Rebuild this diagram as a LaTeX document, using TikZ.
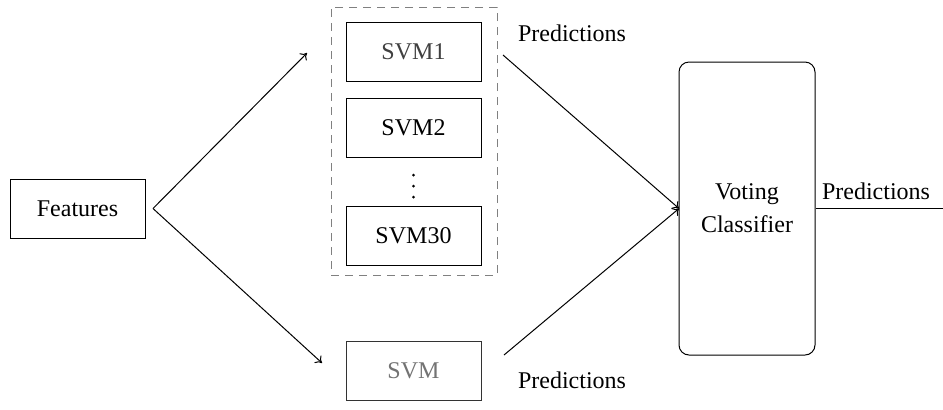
\documentclass[tikz,border=0pt]{standalone}
\usepackage{fontspec}
\setmainfont{Liberation Serif}
\newfontfamily\tnr{Liberation Serif}
\usetikzlibrary{arrows.meta}
\begin{document}
\begin{tikzpicture}[x=0.5pt,y=-0.5pt,
  box/.style={draw, line width=0.5pt, minimum width=67.5pt, minimum height=29.5pt, inner sep=0pt, font=\tnr\fontsize{12}{14}\selectfont},
  lbl/.style={inner sep=0pt, font=\tnr\fontsize{12}{14}\selectfont},
  dot/.style={circle, fill=black, inner sep=0pt, minimum size=1.5pt},
  conn/.style={line width=0.5pt},
  arr/.style={conn, -{To[length=3pt,width=5pt]}}]
\useasboundingbox (0,0) rectangle (943,409);
% group box
\node[draw=gray, dash pattern=on 4pt off 3pt, line width=0.5pt, minimum width=83pt, minimum height=134pt, inner sep=0pt] (grp) at (414,141) {};
\node[box] (feat) at (77.5,208.5) {Features};
\node[box, text=black!75] (svm1) at (413.5,51.5) {SVM1};
\node[box] (svm2) at (413.5,127.5) {SVM2};
\node[dot] (d1) at (413.5,175) {};
\node[dot] (d2) at (413.5,186) {};
\node[dot] (d3) at (413.5,197) {};
\node[box] (svm30) at (413.5,235.5) {SVM30};
\node[box, draw=black!80, text=black!55] (svm) at (413.5,370.5) {SVM};
\node[draw, line width=0.5pt, rounded corners=5pt, minimum width=68pt, minimum height=146.5pt, inner sep=0pt, align=center, font=\tnr\fontsize{12}{16.5}\selectfont] (vote) at (747,208.5) {Voting\\Classifier};
\node[lbl] (p1) at (572,33) {Predictions};
\node[lbl] (p2) at (572,380) {Predictions};
\node[lbl, anchor=south] (p3) at (876,200) {Predictions};
% coordinates
\coordinate (fs) at (153,208.5);
\coordinate (t1) at (307,53);
\coordinate (t2) at (322,363);
\coordinate (s1) at (503,55);
\coordinate (s2) at (504,355);
\coordinate (vin) at (679,208.5);
\coordinate (out) at (943,208.5);
\draw[arr] (fs) -- (t1);
\draw[arr] (fs) -- (t2);
\draw[arr] (s1) -- (vin);
\draw[arr] (s2) -- (vin);
\draw[conn] (vote.east) -- (out);
\end{tikzpicture}
\end{document}
